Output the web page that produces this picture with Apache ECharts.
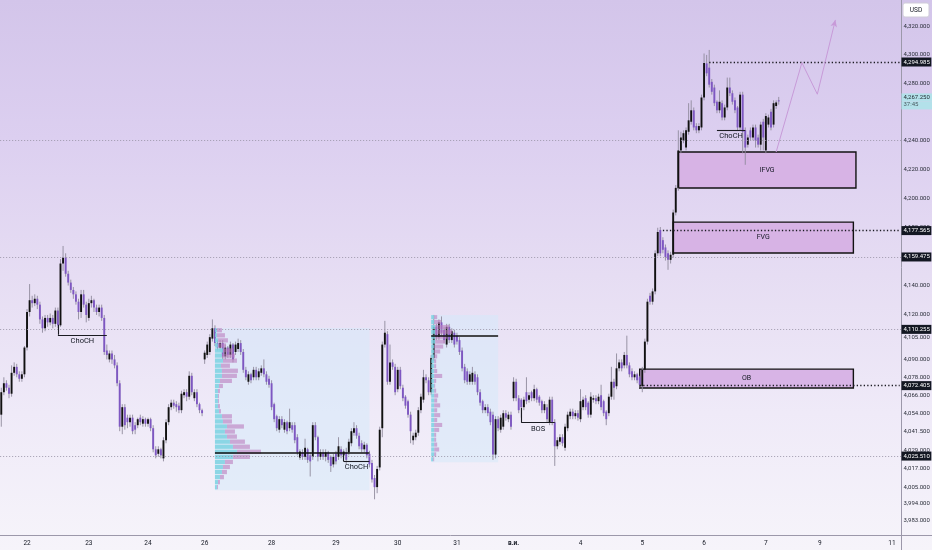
<!DOCTYPE html>
<html><head><meta charset="utf-8">
<script src="https://cdn.jsdelivr.net/npm/echarts@6.0.0/dist/echarts.min.js"></script>
<style>
html,body{margin:0;padding:0;}
body{width:932px;height:550px;overflow:hidden;background:linear-gradient(180deg,#d3c5ea 0%,#dccff0 25%,#e6ddf3 50%,#efeaf8 75%,#f6f4fa 100%);}
#c{width:932px;height:550px;}
</style></head><body><div id="c"></div>
<script>
// ---- time axis: day labels and bars (1 bar ≈ 1 hour) per day ----
const dayLabels = ['', '22', '23', '24', '26', '28', '29', '30', '31', 'в.и.', '4', '5', '6', '7', '9', '11'];
const dayBars   = [10, 24, 23, 22, 26, 25, 24, 23, 22, 26, 24, 24, 24, 21, 28, 4];

// ---- candles: [open, close, low, high] ----
const candles = [
[4053,4068,4045,4071],[4068,4074,4066,4078],[4074,4071,4069,4076],[4071,4067,4064,4073],[4067,4081,4065,4086],
[4081,4085,4079,4088],[4085,4080,4078,4087],[4080,4077,4075,4082],[4077,4080,4075,4082],[4080,4098,4078,4099],
[4098,4122,4096,4124],[4122,4130,4119,4141],[4130,4128,4125,4133],[4128,4131,4126,4134],[4131,4127,4124,4133],
[4127,4117,4114,4129],[4117,4111,4108,4119],[4111,4118,4109,4120],[4118,4115,4112,4120],[4115,4118,4113,4121],
[4118,4114,4111,4120],[4114,4123,4112,4125],[4123,4113,4111,4125],[4113,4155,4112,4158],[4155,4159,4150,4167],
[4159,4148,4146,4162],[4148,4142,4140,4150],[4142,4137,4135,4144],[4137,4134,4131,4139],[4134,4129,4127,4136],
[4129,4122,4117,4131],[4122,4134,4118,4137],[4134,4127,4125,4137],[4127,4120,4115,4129],[4118,4128,4116,4131],
[4128,4130,4125,4133],[4130,4125,4122,4131],[4125,4122,4120,4127],[4122,4125,4119,4127],[4125,4118,4116,4127],
[4118,4095,4093,4120],[4096,4093,4090,4100],[4090,4094,4088,4096],[4094,4090,4087,4096],[4090,4086,4084,4093],
[4086,4074,4072,4088],[4074,4045,4042,4076],[4045,4058,4040,4060],[4058,4046,4043,4060],[4051,4048,4044,4053],
[4048,4051,4045,4053],[4051,4042,4040,4053],[4046,4043,4040,4048],[4046,4050,4044,4051],[4051,4048,4046,4053],
[4047,4050,4045,4052],[4050,4047,4045,4051],[4047,4050,4045,4051],[4050,4044,4042,4051],[4044,4030,4028,4046],
[4030,4026,4024,4032],[4027,4030,4025,4032],[4030,4026,4024,4031],[4024,4036,4022,4038],[4036,4048,4034,4050],
[4048,4058,4046,4060],[4058,4061,4056,4063],[4061,4059,4057,4063],[4060,4058,4055,4062],[4059,4056,4054,4061],
[4056,4067,4054,4069],[4066,4068,4064,4070],[4068,4065,4062,4070],[4065,4079,4063,4082],[4079,4068,4066,4081],
[4064,4068,4062,4070],[4068,4060,4058,4070],[4060,4056,4054,4061],[4056,4054,4052,4057],
// 26
[4090,4094.5,4087,4096],[4093,4100,4091,4102],[4095,4105,4093,4107],[4104,4111,4102,4117],[4111,4101,4099,4113],
[4101,4098,4096,4103],[4098,4101,4096,4103],[4101,4092,4090,4103],[4092,4098,4090,4100],[4098,4093,4091,4099],
[4093,4100,4091,4102],[4100,4090,4088,4101],[4095,4100,4093,4102],[4097,4101,4095,4104],[4101,4095,4093,4103],
[4095,4083,4081,4097],[4083,4078,4076,4085],[4075,4080,4073,4082],[4080,4076,4074,4081],[4078,4083,4076,4085],
[4083,4078,4076,4085],[4078,4082,4076,4084],[4081,4084,4079,4086],[4084,4080,4078,4090],[4080,4075,4073,4082],
[4077,4073,4071,4079],[4074,4058,4056,4076],[4060,4050,4048,4061],[4052,4044,4042,4053],[4043,4050,4041,4052],
[4050,4046,4044,4052],[4043,4048,4041,4050],[4048,4042,4040,4049],[4044,4048,4042,4057],[4046,4043,4041,4048],
[4046,4036,4034,4048],[4038,4028,4026,4040],[4024.5,4028.5,4023,4030],[4028,4025,4023,4030],[4025,4031,4023,4037],
[4030,4023,4021,4031],[4026,4022,4012,4028],[4025,4046,4023,4048],[4046,4038,4036,4048],[4038,4025,4022,4039],
[4025,4028,4023,4030],[4028,4025,4023,4030],[4025,4028,4022,4030],[4028,4023,4021,4029],[4025,4019,4015,4026],
[4020,4025,4018,4027],[4027,4022,4020,4029],[4025,4032,4023,4038],[4030,4026,4024,4032],[4026,4028.5,4024,4030],
[4028,4023,4020,4031],[4028,4035,4026,4037],[4034,4042,4032,4044],[4041,4044,4039,4048],[4044,4039,4037,4046],
[4039,4032,4030,4041],[4034,4030,4028,4036],[4030,4033,4028,4035],[4033,4026,4024,4034],[4027,4020,4018,4029],
[4021,4010,4008,4023],[4011,4005,3997,4013],[4005,4017,4001,4019],[4018,4043,4016,4045],
// 30-31
[4044,4100,4038,4102],[4100,4108,4098,4116],[4107,4075,4073,4109],[4075,4088,4073,4100],[4088,4085,4083,4090],
[4085,4068,4066,4087],[4070,4083,4068,4085],[4083,4072,4070,4085],[4071,4064,4062,4073],[4065,4059,4057,4066],
[4062,4053,4051,4063],[4053,4042,4034,4055],[4036,4039,4033,4041],[4038,4041,4036,4043],[4041,4056,4039,4058],
[4056,4065,4054,4067],[4063,4078,4061,4083],[4078,4076,4074,4080],[4076,4068,4066,4078],[4068,4091,4066,4093],
[4091,4112,4089,4120],[4112,4105,4103,4114],[4105,4115,4103,4117],[4115,4108,4106,4119],[4110,4103,4101,4112],
[4100,4112,4098,4114],[4112,4103,4101,4114],[4103,4109,4101,4111],[4108,4100,4098,4110],[4106,4102,4100,4108],
[4103,4095,4093,4105],[4096,4084,4082,4098],[4085,4076,4074,4087],[4082,4075,4073,4084],[4075,4080,4073,4082],
[4075,4081,4073,4085],[4080,4075,4073,4082],[4078,4068,4066,4080],[4068,4061,4059,4070],[4062,4056,4054,4063],
[4056,4058,4054,4060],[4058,4054,4052,4060],[4055,4048,4046,4057],[4053,4026.5,4023,4055],[4026.5,4050,4024,4052],
[4050,4044,4042,4052],[4043,4051,4041,4053],[4045,4054,4043,4056],[4054,4051,4049,4056],[4050,4053,4048,4055],
[4053,4045,4043,4055],
// Nov
[4064,4075,4062,4078],[4075,4064,4062,4077],[4064,4056,4054,4066],[4063,4058,4051,4064],[4058,4063,4056,4065],
[4068,4062,4060,4078],[4063,4066,4061,4068],[4068,4064,4062,4069],[4064,4070,4062,4073],[4070,4063,4061,4071],
[4065,4061,4059,4066],[4062,4056,4054,4063],[4056,4060,4054,4062],[4058,4050,4048,4060],[4048,4063,4046,4065],
[4063,4048,4046,4065],[4048,4032,4019,4050],[4032,4036,4030,4038],[4035,4038,4033,4040],[4038,4034,4032,4040],
[4031,4045,4029,4047],[4044,4053,4042,4055],[4052,4055,4050,4057],[4055,4052,4050,4057],[4052,4054,4050,4056],
[4054,4051,4049,4056],[4050,4062,4048,4070],[4058,4063,4056,4065],[4064,4058,4056,4066],[4061,4053,4051,4062],
[4053,4065,4051,4068],[4063,4064,4061,4066],[4064,4062,4060,4066],[4062,4065,4060,4067],[4066,4058,4056,4073],
[4062,4054,4052,4063],[4055,4050,4046,4056],[4054,4065,4052,4067],[4065,4075,4063,4085],[4075,4071,4063,4077],
[4072,4084,4070,4094],[4084,4088,4082,4090],[4088,4084,4082,4090],[4086,4093,4084,4095],[4093,4086,4084,4106],
[4086,4080,4078,4088],[4082,4078,4076,4084],[4078,4080,4076,4082],[4080,4076,4074,4081],[4078,4073,4071,4079],
// 5
[4072,4083,4068,4085],[4083,4102,4081,4104],[4102,4129,4100,4131],[4133,4129,4127,4135],[4129,4136,4127,4138],
[4136,4162,4134,4164],[4162,4176.6,4160,4179.5],[4178,4162,4160,4180],[4171,4164.4,4162,4173],[4166,4159.5,4157,4168],
[4162,4157.5,4150.7,4164],[4157.5,4161,4155,4163],[4161,4190,4159,4192],[4190,4207,4188,4209],[4207,4233,4205,4247],
[4233,4242,4231,4246],[4240,4245,4238,4247],[4235,4247,4233,4249],[4246,4254,4244,4266],[4253,4261,4251,4268],
[4261,4249,4247,4263],[4250,4247,4245,4252],[4247,4250,4245,4252],
// 6-7
[4249,4270,4247,4272],[4270,4294.3,4268,4301],[4294,4287,4285,4300],[4291,4279,4277,4303.5],[4281,4274,4272,4283],
[4277,4266,4264,4279],[4267,4261,4259,4268],[4261,4267,4259,4275],[4266,4256,4254,4268],[4256,4263,4254,4265],
[4263,4277,4261,4284],[4277,4273,4271,4284],[4273,4267,4265,4275],[4268,4261,4259,4270],[4263,4249,4247,4264],
[4249,4272,4247,4274],[4272,4246,4231,4274],[4247,4235,4223,4249],[4237,4242,4235,4244],[4247,4242,4240,4249],
[4242,4249,4240,4251],[4249,4240,4235,4251],[4242,4237,4235,4244],[4237,4251,4233,4253],[4253,4242,4233,4255],
[4233,4257,4231,4259],[4251,4256,4249,4258],[4260,4249,4247,4262],[4251,4266,4249,4268],[4264,4266.5,4262,4268],
[4268,4267.25,4265,4270.4]
];

// ---- price scale ticks and marked levels ----
const priceTicks = [3983, 3994, 4005, 4017, 4029, 4041.5, 4054, 4066, 4078, 4090, 4105, 4120, 4140, 4160, 4180, 4200, 4220, 4240, 4280, 4300, 4320];
const markedLevels = [4294.985, 4177.565, 4159.475, 4110.255, 4072.405, 4025.51];
const lastPrice = 4267.25;
const countdown = '37:45';
const greyLevels = [4240, 4159.475, 4110.255, 4025.51];
// dotted levels: [fromBar, price]
const dottedLevels = [[275, 4294.985], [257, 4177.565], [248, 4072.405]];
// zones
const zoneNames = ['IFVG', 'FVG', 'OB'];
const zoneFrom  = [263, 261, 248];
const zoneTo    = [332, 331, 331];
const zoneLow   = [4206.9, 4162.2, 4070.8];
const zoneHigh  = [4231.9, 4183.4, 4083.5];
// structure breaks
const structNames = ['ChoCH', 'ChoCH', 'BOS', 'ChoCH'];
const structFrom  = [22, 133, 202, 278];
const structTo    = [41, 143, 215, 289];
const structPrice = [4106.6, 4021.9, 4047.7, 4247.3];
const structTick  = [4113.4, 4028, 4057.5, null];
// projected path: [bar, price]
const projection = [[301, 4231.9], [311, 4294.5], [317, 4272.3], [324, 4324.8]];
// volume profiles: range [fromBar, toBar, high, low, pocPrice], rows top->bottom
const profile1Range = [83, 143, 4111.1, 4003.0, 4027.5];
const profile1Up   = [2,2,3,3,8,7,8,6,7,7,5,4,3,3,3,3,4,7,8,12,10,12,15,18,22,18,10,8,7,5,3,2];
const profile1Down = [5,8,10,8,10,13,14,9,16,15,12,4,2,1,1,2,2,10,9,17,10,10,15,17,24,17,8,7,5,4,2,1];
const profile2Range = [167, 193, 4119.9, 4021.5, 4106.0];
const profile2Up   = [3,3,4,4,4,4,3,3,3,3,3,3,3,3,3,3,3,3,3,3,3,3,3,3,3,3,3,3,3,2];
const profile2Down = [3,7,14,17,12,10,9,6,3,2,2,3,8,2,1,2,4,3,6,3,6,3,8,5,2,2,3,5,2,1];

// ---- build ----
const categories = [];
dayLabels.forEach((d, j) => { for (let k = 0; k < dayBars[j]; k++) categories.push(j + '|' + k); });
const N = categories.length;
const candleData = candles.map((c, i) => [i, c[0], c[1], c[2], c[3]]);

function fmt(v) {
  const s = Number(v).toFixed(3).split('.');
  return s[0].replace(/\B(?=(\d{3})+$)/g, ',') + '.' + s[1];
}
function profileRows(range, up, down) {
  const n = up.length, hi = range[2], lo = range[3];
  const r = Math.pow(lo / hi, 1 / n);
  return up.map((u, k) => [range[0], hi * Math.pow(r, k), hi * Math.pow(r, k + 1), u, down[k]]);
}
const profileData = profileRows(profile1Range, profile1Up, profile1Down).concat(profileRows(profile2Range, profile2Up, profile2Down));

const FONT = "Roboto, sans-serif";
const TXT = '#131722';
const AXIS = '#9c98aa';
const YMIN = 3973.6, YMAX = 4339;

const mlData = [];
greyLevels.forEach(v => mlData.push({ yAxis: v, lineStyle: { color: '#9a96a8', width: 0.8, type: [1.2, 1.8] } }));
dottedLevels.forEach(d => mlData.push([
  { coord: [d[0], d[1]], lineStyle: { color: '#1b1b22', width: 1.3, type: [1.3, 2.2] } },
  { coord: [N - 1, d[1]] }
]));
structNames.forEach((nm, j) => {
  mlData.push([
    { coord: [structFrom[j], structPrice[j]], lineStyle: { color: '#1b1b22', width: 1.1, type: 'solid' },
      label: { show: true, formatter: nm, position: 'insideMiddleBottom', distance: 2, color: TXT, fontSize: 7.5, fontFamily: 'Roboto' } },
    { coord: [structTo[j], structPrice[j]] }
  ]);
  if (structTick[j] !== null) {
    mlData.push([
      { coord: [structFrom[j], structTick[j]], lineStyle: { color: '#1b1b22', width: 1.1, type: 'solid' } },
      { coord: [structFrom[j], structPrice[j]] }
    ]);
  }
});
[profile1Range, profile2Range].forEach(r => mlData.push([
  { coord: [r[0], r[4]], lineStyle: { color: '#111', width: 1.6, type: 'solid' } },
  { coord: [r[1], r[4]] }
]));
for (let j = 0; j < projection.length - 1; j++) {
  const last = j === projection.length - 2;
  mlData.push([
    { coord: projection[j], symbol: 'none', lineStyle: { color: '#c79ad8', width: 1, type: 'solid' } },
    { coord: projection[j + 1], symbol: last ? 'arrow' : 'none', symbolSize: [5, 7] }
  ]);
}

const maData = [];
[profile1Range, profile2Range].forEach(r => maData.push([
  { coord: [r[0], r[2]], itemStyle: { color: 'rgba(214,234,250,0.55)', borderWidth: 0 } },
  { coord: [r[1], r[3]] }
]));
zoneNames.forEach((nm, j) => maData.push([
  { coord: [zoneFrom[j], zoneHigh[j]],
    itemStyle: { color: 'rgba(214,176,228,0.92)', borderColor: '#121212', borderWidth: 1.4 },
    label: { show: true, formatter: nm, position: 'inside', color: TXT, fontSize: 7, fontFamily: 'Roboto' } },
  { coord: [zoneTo[j], zoneLow[j]] }
]));

const chart = echarts.init(document.getElementById('c'), null, { renderer: 'canvas' });
const baseY = {
  type: 'log', logBase: 10, min: YMIN, max: YMAX, position: 'right', gridIndex: 0,
  axisTick: { show: false }, splitLine: { show: false }
};
chart.setOption({
  animation: false,
  backgroundColor: 'transparent',
  grid: { left: 0, right: 31, top: 0, bottom: 15, containLabel: false, outerBoundsMode: 'none' },
  xAxis: {
    type: 'category', data: categories, boundaryGap: true,
    axisLine: { lineStyle: { color: AXIS, width: 1 } },
    axisTick: { show: false }, splitLine: { show: false },
    axisLabel: {
      interval: (idx, val) => { const p = String(val).split('|'); return p[1] === '0' && dayLabels[+p[0]] !== ''; },
      formatter: (val) => { const p = String(val).split('|'); const t = dayLabels[+p[0]]; return /^\d+$/.test(t) ? t : '{b|' + t + '}'; },
      rich: { b: { fontWeight: 'bold', fontSize: 6.5, color: TXT, fontFamily: FONT } },
      fontSize: 6.5, color: TXT, margin: 5, fontFamily: FONT, hideOverlap: false
    }
  },
  yAxis: [
    Object.assign({}, baseY, {
      axisLine: { show: true, lineStyle: { color: AXIS, width: 1 } },
      axisLabel: { customValues: priceTicks, formatter: v => fmt(v), fontSize: 6, color: '#2a2e39', margin: 2.5, fontFamily: FONT }
    }),
    Object.assign({}, baseY, {
      axisLine: { show: false },
      axisLabel: { customValues: markedLevels, formatter: v => '{h|' + fmt(v) + '}', margin: 0.5,
        rich: { h: { backgroundColor: '#131722', color: '#ffffff', fontSize: 6, padding: [1.5, 1.5, 1.5, 2], fontFamily: FONT } } }
    }),
    Object.assign({}, baseY, {
      axisLine: { show: false },
      axisLabel: { customValues: [lastPrice], formatter: v => '{p|' + fmt(v) + '}\n{q|' + countdown + '}', margin: 0.5,
        rich: {
          p: { backgroundColor: '#b3e1ea', color: '#1f2a30', fontSize: 6, padding: [1.5, 1.5, 0.5, 2], width: 27, fontFamily: FONT },
          q: { backgroundColor: '#b3e1ea', color: '#4a5a62', fontSize: 6, padding: [0.5, 1.5, 1.5, 2], width: 27, fontFamily: FONT }
        } }
    })
  ],
  series: [
    {
      name: 'candles', type: 'custom', z: 2, yAxisIndex: 0,
      data: candleData, encode: { x: 0, y: [1, 2, 3, 4] },
      renderItem: (params, api) => {
        const i = api.value(0), o = api.value(1), c = api.value(2), l = api.value(3), h = api.value(4);
        const po = api.coord([i, o]), pc = api.coord([i, c]), pl = api.coord([i, l]), ph = api.coord([i, h]);
        const bw = api.size([1, 0])[0];
        const w = bw * 0.74;
        const top = Math.min(po[1], pc[1]);
        const hh = Math.max(Math.abs(po[1] - pc[1]), 0.9);
        return { type: 'group', children: [
          { type: 'line', shape: { x1: po[0], y1: ph[1], x2: po[0], y2: pl[1] }, style: { stroke: '#8e8a9c', lineWidth: 0.9 } },
          { type: 'rect', shape: { x: po[0] - w / 2, y: top, width: w, height: hh }, style: { fill: c >= o ? '#111111' : '#7e57c2' } }
        ] };
      },
      markArea: { silent: true, z: 1, data: maData },
      markLine: { silent: true, symbol: ['none', 'none'], label: { show: false }, data: mlData, animation: false }
    },
    {
      name: 'profile', type: 'custom', z: 3, yAxisIndex: 0,
      data: profileData, encode: { x: 0, y: [1, 2] },
      renderItem: (params, api) => {
        const a = api.coord([api.value(0), api.value(1)]);
        const b = api.coord([api.value(0), api.value(2)]);
        const hh = Math.max(b[1] - a[1] - 0.8, 0.5);
        const wu = api.value(3), wd = api.value(4);
        return { type: 'group', children: [
          { type: 'rect', shape: { x: a[0], y: a[1], width: wu, height: hh }, style: { fill: 'rgba(124,210,226,0.85)' } },
          { type: 'rect', shape: { x: a[0] + wu, y: a[1], width: wd, height: hh }, style: { fill: 'rgba(188,126,190,0.62)' } }
        ] };
      }
    }
  ],
  graphic: [
    { type: 'line', shape: { x1: 901, y1: 535.5, x2: 932, y2: 535.5 }, style: { stroke: AXIS, lineWidth: 1 }, z: 10 },
    { type: 'line', shape: { x1: 901.5, y1: 535, x2: 901.5, y2: 550 }, style: { stroke: AXIS, lineWidth: 1 }, z: 10 },
    { type: 'rect', shape: { x: 903, y: 3, width: 26, height: 14, r: 2 }, style: { fill: '#ffffff', stroke: '#cfcbd9', lineWidth: 1 }, z: 10 },
    { type: 'text', x: 916, y: 10.5, style: { text: 'USD', fontSize: 6.5, fill: TXT, align: 'center', verticalAlign: 'middle', fontFamily: FONT }, z: 11 }
  ]
});
</script>
</body></html>
